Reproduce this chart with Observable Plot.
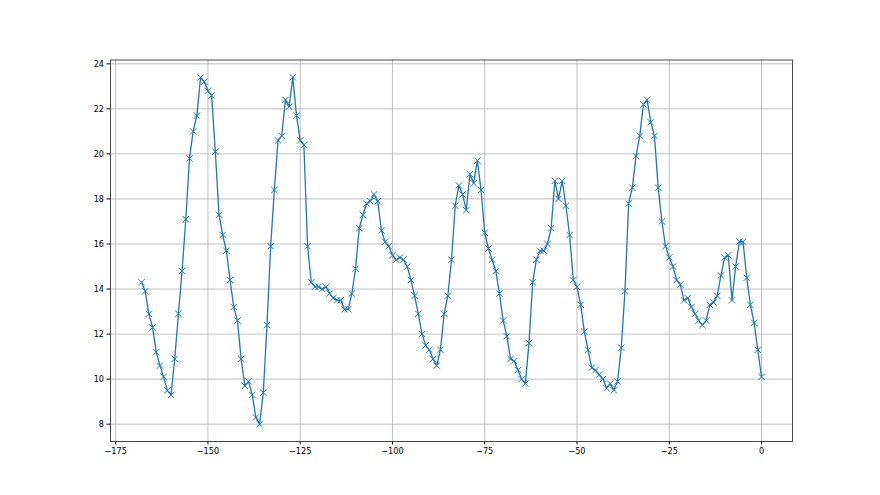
<!DOCTYPE html>
<html><head><meta charset="utf-8">
<script src="https://cdn.jsdelivr.net/npm/d3@7"></script>
<script src="https://cdn.jsdelivr.net/npm/@observablehq/plot@0.6"></script>
<style>
  body { margin: 0; background: #fff; }
  #chart svg { display: block; }
</style>
</head><body><div id="chart"></div>
<script>
// Hourly values, x = hours relative to now (first point at -168, last at 0)
const startHour = -168;
const values = [
  14.3, 13.9, 12.9, 12.3, 11.2, 10.6, 10.1, 9.5, 9.3, 10.9,
  12.9, 14.8, 17.1, 19.8, 21.0, 21.7, 23.4, 23.2, 22.8, 22.6,
  20.1, 17.3, 16.4, 15.7, 14.4, 13.2, 12.6, 10.9, 9.7, 9.9,
  9.3, 8.3, 8.0, 9.4, 12.4, 15.9, 18.4, 20.6, 20.8, 22.4,
  22.1, 23.4, 21.7, 20.6, 20.4, 15.9, 14.3, 14.1, 14.1, 14.0,
  14.1, 13.8, 13.6, 13.5, 13.5, 13.1, 13.1, 13.8, 14.9, 16.7,
  17.3, 17.8, 17.9, 18.2, 17.9, 16.6, 16.1, 15.9, 15.5, 15.3,
  15.4, 15.3, 15.0, 14.4, 13.7, 12.9, 12.0, 11.5, 11.3, 10.9,
  10.6, 11.3, 12.9, 13.7, 15.3, 17.7, 18.6, 18.2, 17.5, 19.1,
  18.7, 19.7, 18.4, 16.5, 15.8, 15.3, 14.8, 13.8, 12.6, 11.9,
  10.9, 10.8, 10.4, 10.0, 9.8, 11.6, 14.3, 15.3, 15.7, 15.7,
  16.0, 16.7, 18.8, 18.0, 18.8, 17.7, 16.4, 14.4, 14.1, 13.3,
  12.1, 11.3, 10.5, 10.4, 10.2, 10.0, 9.6, 9.8, 9.5, 9.9,
  11.4, 13.9, 17.8, 18.5, 19.9, 20.8, 22.2, 22.4, 21.4, 20.8,
  18.5, 17.0, 15.9, 15.4, 15.0, 14.4, 14.2, 13.5, 13.6, 13.2,
  12.9, 12.6, 12.4, 12.6, 13.3, 13.4, 13.7, 14.6, 15.4, 15.5,
  13.5, 15.0, 16.1, 16.1, 14.5, 13.3, 12.5, 11.3, 10.1
];
const xTicks = [-175, -150, -125, -100, -75, -50, -25, 0];
const yTicks = [8, 10, 12, 14, 16, 18, 20, 22, 24];

const data = values.map((v, i) => ({x: startHour + i, y: v}));

// matplotlib-like 5% margins around the data range
const xExt = d3.extent(data, d => d.x);
const yExt = d3.extent(data, d => d.y);
const xPad = (xExt[1] - xExt[0]) * 0.05;
const yPad = (yExt[1] - yExt[0]) * 0.05;

const blue = "#1f77b4";

const chart = Plot.plot({
  width: 880,
  height: 495,
  marginLeft: 110,
  marginRight: 88,
  marginTop: 59.5,
  marginBottom: 54,
  style: {fontFamily: "'DejaVu Sans Condensed', 'DejaVu Sans', sans-serif", fontSize: "9px", color: "#000", background: "#fff"},
  x: {domain: [xExt[0] - xPad, xExt[1] + xPad]},
  y: {domain: [yExt[0] - yPad, yExt[1] + yPad]},
  marks: [
    Plot.ruleX(xTicks, {stroke: "#b0b0b0", strokeWidth: 0.8, strokeOpacity: 1}),
    Plot.ruleY(yTicks, {stroke: "#b0b0b0", strokeWidth: 0.8, strokeOpacity: 1}),
    Plot.axisX({ticks: xTicks, tickSize: 3.5, tickPadding: 3, label: null, tickFormat: d => d < 0 ? "\u2212" + Math.abs(d) : String(d)}),
    Plot.axisY({ticks: yTicks, tickSize: 3.5, tickPadding: 3, label: null}),
    Plot.line(data, {x: "x", y: "y", stroke: blue, strokeWidth: 1.3}),
    Plot.dot(data, {x: "x", y: "y", symbol: "times", r: 3, stroke: blue, strokeWidth: 1}),
    Plot.frame({stroke: "#333", strokeWidth: 0.9})
  ]
});
document.getElementById("chart").appendChild(chart);
</script>
</body></html>
